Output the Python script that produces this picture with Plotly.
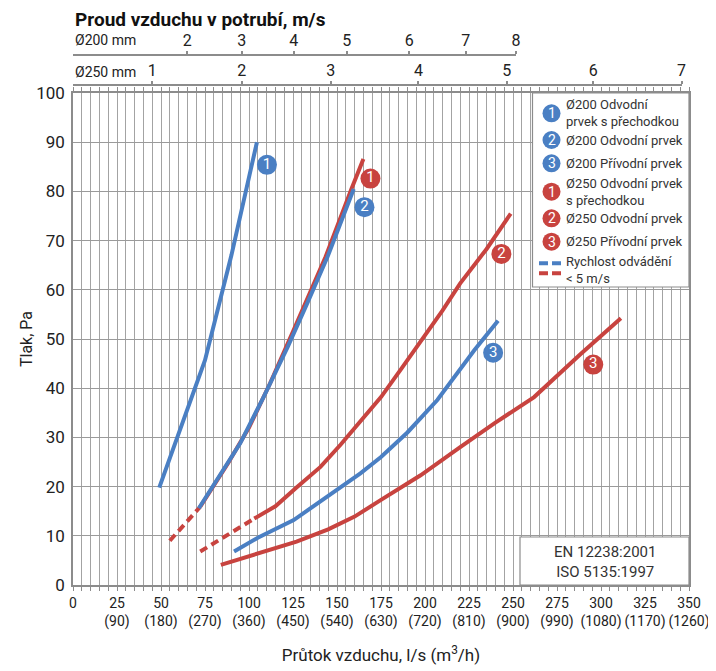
import plotly.graph_objects as go

BLUE = "#4a7fc3"
RED = "#c8433f"
GRID = "#a3a3a3"
AXIS = "#8c8c8c"
TEXT = "#222222"
FONT = "Roboto, Liberation Sans, sans-serif"

# ---- data ----
# Ø200 odvodní prvek s přechodkou
b1_flow = [49, 62, 75, 90, 104.5]
b1_dp = [19.8, 32.5, 45.7, 67, 90]
# Ø200 odvodní prvek
b2_flow = [71.5, 83, 95, 108, 122, 133, 144.5, 159.5]
b2_dp = [15.6, 22, 28.8, 38, 48.4, 57.2, 66.6, 80.5]
# Ø200 přívodní prvek
b3_flow = [91.5, 105, 125.4, 145, 163.3, 175, 190, 207, 228, 241.5]
b3_dp = [6.8, 9.6, 13.2, 18, 22.7, 26, 31, 37.6, 47.7, 53.7]
# Ø250 odvodní prvek s přechodkou (dashed part + solid part)
r1_dash_flow = [55, 72.3]
r1_dash_dp = [9, 15.9]
r1_flow = [72.3, 88, 100, 112, 125, 143.4, 158.2, 165]
r1_dp = [15.9, 24.7, 32, 41, 51.5, 66.6, 80.5, 86.6]
# Ø250 odvodní prvek
r2_dash_flow = [72.3, 103]
r2_dash_dp = [6.8, 13.5]
r2_flow = [103, 115, 127, 140.6, 152, 163, 175, 187, 199.4, 210, 220, 235, 248.7]
r2_dp = [13.5, 16, 19.8, 24, 28.5, 33, 38.2, 44.2, 50.4, 55.8, 61.3, 68.3, 75.5]
# Ø250 přívodní prvek
r3_flow = [84, 105, 127, 145, 160, 175, 197.5, 220, 240, 262, 288.6, 311.3]
r3_dp = [4.1, 6.3, 8.8, 11.3, 13.9, 17.3, 22.3, 28, 33, 38.2, 47, 54.2]

# curve number badges
badge_flow = [110.2, 165.6, 238.7, 169, 243.4, 295.6]
badge_dp = [85.4, 76.8, 47.2, 82.6, 67.3, 44.8]
badge_text = ["1", "2", "3", "1", "2", "3"]
badge_color = [BLUE, BLUE, BLUE, RED, RED, RED]

# bottom axis
flow_ticks = list(range(0, 351, 25))
m3h_ticks = [f * 36 // 10 for f in flow_ticks]
flow_labels = ["0"] + [f"{f}<br>({m})" for f, m in zip(flow_ticks[1:], m3h_ticks[1:])]

# top velocity axes (positions in l/s)
v200_pos = [64.9, 95.9, 125.4, 155.5, 191.1, 223.1, 251.7]
v200_lbl = ["2", "3", "4", "5", "6", "7", "8"]
v250_pos = [45.0, 95.9, 146.4, 196.3, 246.4, 295.6, 345.8]
v250_lbl = ["1", "2", "3", "4", "5", "6", "7"]

legend_items = [
    ("1", BLUE, "Ø200 Odvodní<br>prvek s přechodkou"),
    ("2", BLUE, "Ø200 Odvodní prvek"),
    ("3", BLUE, "Ø200 Přívodní prvek"),
    ("1", RED, "Ø250 Odvodní prvek<br>s přechodkou"),
    ("2", RED, "Ø250 Odvodní prvek"),
    ("3", RED, "Ø250 Přívodní prvek"),
]

# ---- layout geometry (page pixels; the page body adds an 8px margin) ----
OFF = 8
W, H = 716 - OFF, 671 - OFF
X0, X1 = 73, 689          # plot area left/right on the page
Y0, Y1 = 585, 93          # y=0 and y=100 on the page
ML, MR = X0 - OFF, 716 - X1
MB = 671 - Y0
MT = 40 - OFF
PW = X1 - X0
PH = (671 - MB) - (MT + OFF)


def px(xp):
    return (xp - X0) / PW


def py(yp):
    return (Y0 - yp) / PH


fig = go.Figure()

line_kw = dict(mode="lines", showlegend=False, hoverinfo="skip")
fig.add_trace(go.Scatter(x=r1_dash_flow, y=r1_dash_dp, line=dict(color=RED, width=4, dash="8px,5px"), **line_kw))
fig.add_trace(go.Scatter(x=r2_dash_flow, y=r2_dash_dp, line=dict(color=RED, width=4, dash="8px,5px"), **line_kw))
fig.add_trace(go.Scatter(x=r1_flow, y=r1_dp, line=dict(color=RED, width=4), **line_kw))
fig.add_trace(go.Scatter(x=r2_flow, y=r2_dp, line=dict(color=RED, width=4), **line_kw))
fig.add_trace(go.Scatter(x=r3_flow, y=r3_dp, line=dict(color=RED, width=4), **line_kw))
fig.add_trace(go.Scatter(x=b1_flow, y=b1_dp, line=dict(color=BLUE, width=4), **line_kw))
fig.add_trace(go.Scatter(x=b2_flow, y=b2_dp, line=dict(color=BLUE, width=4), **line_kw))
fig.add_trace(go.Scatter(x=b3_flow, y=b3_dp, line=dict(color=BLUE, width=4), **line_kw))

fig.add_trace(go.Scatter(
    x=badge_flow, y=badge_dp, text=badge_text, mode="markers+text",
    marker=dict(size=20, color=badge_color, line=dict(width=0)),
    textposition="middle center",
    textfont=dict(color="white", size=15, family=FONT),
    showlegend=False, hoverinfo="skip",
))

# empty traces so the top velocity axes get drawn (on a hidden y axis)
fig.add_trace(go.Scatter(x=[None], y=[None], xaxis="x2", yaxis="y2", showlegend=False, hoverinfo="skip"))
fig.add_trace(go.Scatter(x=[None], y=[None], xaxis="x3", yaxis="y2", showlegend=False, hoverinfo="skip"))

y_top = py(Y1)
top_axis = dict(
    anchor="free", side="top", showgrid=False, zeroline=False,
    showline=True, linecolor=AXIS, linewidth=2,
    ticks="outside", ticklen=3, tickcolor=AXIS, tickwidth=1.5,
    tickfont=dict(size=16, color=TEXT, family=FONT), tickmode="array",
    ticklabelstandoff=-1, fixedrange=True, automargin=False,
)

fig.update_layout(
    width=W, height=H,
    margin=dict(l=ML, r=MR, t=MT, b=MB, autoexpand=False),
    paper_bgcolor="white", plot_bgcolor="rgba(0,0,0,0)",
    font=dict(family=FONT, color=TEXT),
    xaxis=dict(
        range=[0, 350], domain=[0, 1], automargin=False,
        tickmode="array", tickvals=flow_ticks, ticktext=flow_labels, tickangle=0,
        tickfont=dict(size=14, color=TEXT),
        ticks="outside", ticklen=4, tickcolor=AXIS,
        showgrid=True, gridcolor=GRID, gridwidth=1.3,
        minor=dict(dtick=5, tick0=0, ticks="outside", ticklen=4, tickcolor=AXIS,
                   showgrid=True, gridcolor=GRID, gridwidth=1.3),
        showline=True, linecolor=AXIS, linewidth=1.5, mirror="allticks",
        zeroline=False,
        title=dict(text="Průtok vzduchu, l/s (m<sup>3</sup>/h)", font=dict(size=17, color=TEXT), standoff=20),
    ),
    yaxis=dict(
        range=[0, 100], domain=[0, y_top], automargin=False,
        tickmode="linear", tick0=0, dtick=10,
        tickfont=dict(size=17, color=TEXT), ticklabelstandoff=3,
        showgrid=True, gridcolor="#9a9a9a", gridwidth=1.4,
        showline=True, linecolor=AXIS, linewidth=1.5, mirror=True,
        zeroline=False, ticks="",
        title=dict(text="Tlak, Pa", font=dict(size=16, color=TEXT), standoff=0),
    ),
    yaxis2=dict(range=[0, 1], domain=[0, y_top], anchor="x", visible=False, showgrid=False),
    xaxis2=dict(top_axis, domain=[0, 251.7 / 350], range=[0, 251.7],
                position=py(55), tickvals=v200_pos, ticktext=v200_lbl),
    xaxis3=dict(top_axis, domain=[0, 345.8 / 350], range=[0, 345.8],
                position=py(85), tickvals=v250_pos, ticktext=v250_lbl),
)

shapes = []
annotations = []

# top-axis captions
annotations.append(dict(text="<b>Proud vzduchu v potrubí, m/s</b>", x=0, y=py(19), xref="paper", yref="paper",
                        xanchor="left", yanchor="middle", showarrow=False, font=dict(size=19, color="#111")))
annotations.append(dict(text="Ø200 mm", x=0, y=py(40), xref="paper", yref="paper",
                        xanchor="left", yanchor="middle", showarrow=False, font=dict(size=14, color=TEXT)))
annotations.append(dict(text="Ø250 mm", x=0, y=py(72), xref="paper", yref="paper",
                        xanchor="left", yanchor="middle", showarrow=False, font=dict(size=14, color=TEXT)))

# legend box
shapes.append(dict(type="rect", xref="paper", yref="paper", x0=px(532.5), x1=1, y0=py(287), y1=y_top,
                   line=dict(color=AXIS, width=1.2), fillcolor="white", layer="above"))
legend_y = [113.3, 140, 163.3, 191.7, 218.3, 241.7]
icon_x = px(551.5)
for (num, col, label), yy in zip(legend_items, legend_y):
    shapes.append(dict(type="circle", xref="paper", yref="paper", xsizemode="pixel", ysizemode="pixel",
                       xanchor=icon_x, yanchor=py(yy), x0=-9, x1=9, y0=-9, y1=9,
                       fillcolor=col, line=dict(width=0), layer="above"))
    annotations.append(dict(text=num, x=icon_x, y=py(yy), xref="paper", yref="paper", showarrow=False,
                            xanchor="center", yanchor="middle", font=dict(size=14, color="white")))
    annotations.append(dict(text=label, x=px(564), y=py(yy), xref="paper", yref="paper", showarrow=False,
                            xanchor="left", yanchor="middle", align="left",
                            font=dict(size=13, color="#333")))
for yy, col in [(263.3, BLUE), (273.3, RED)]:
    shapes.append(dict(type="line", xref="paper", yref="paper", x0=px(539), x1=px(563), y0=py(yy), y1=py(yy),
                       line=dict(color=col, width=4, dash="9px,4px"), layer="above"))
annotations.append(dict(text="Rychlost odvádění<br>&lt; 5 m/s", x=px(564), y=py(270), xref="paper", yref="paper",
                        showarrow=False, xanchor="left", yanchor="middle", align="left",
                        font=dict(size=13, color="#333")))

# standards box
shapes.append(dict(type="rect", xref="paper", yref="paper", x0=px(520), x1=1, y0=0, y1=py(537),
                   line=dict(color=AXIS, width=1.2), fillcolor="white", layer="above"))
annotations.append(dict(text="EN 12238:2001<br>ISO 5135:1997", x=px(605), y=py(561.5), xref="paper", yref="paper",
                        showarrow=False, xanchor="center", yanchor="middle", align="center",
                        font=dict(size=15, color="#333")))

fig.update_layout(shapes=shapes, annotations=annotations)

fig.write_html("out.html")
